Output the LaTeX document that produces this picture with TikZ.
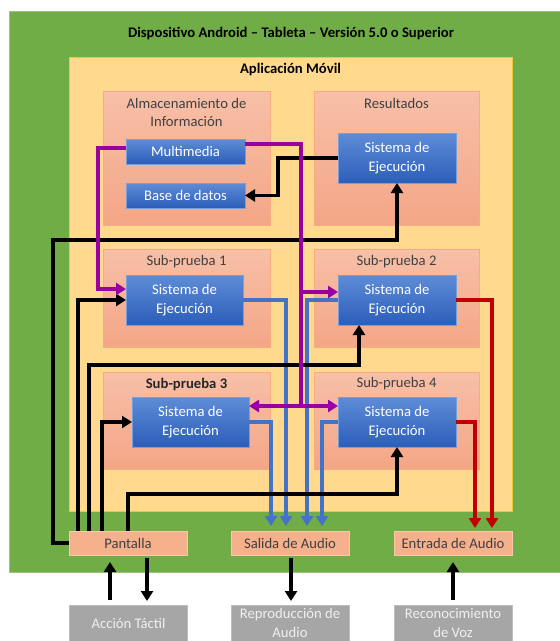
\documentclass[tikz,border=0pt]{standalone}
\usepackage{fontspec}
\setmainfont{Carlito}
\usetikzlibrary{arrows.meta}
\definecolor{gr}{RGB}{112,173,71}
\definecolor{yel}{RGB}{255,217,142}
\definecolor{yelb}{RGB}{236,200,60}
\definecolor{saltop}{RGB}{247,192,168}
\definecolor{salbot}{RGB}{244,166,134}
\definecolor{salbd}{RGB}{246,172,128}
\definecolor{bltop}{RGB}{94,140,214}
\definecolor{blbot}{RGB}{44,94,186}
\definecolor{blbd}{RGB}{120,158,220}
\definecolor{pur}{RGB}{153,0,160}
\definecolor{lbl}{RGB}{68,114,196}
\definecolor{rd}{RGB}{192,0,0}
\definecolor{txt}{RGB}{64,64,64}
\definecolor{gbox}{RGB}{166,166,166}
\definecolor{gbd}{RGB}{190,190,190}
\definecolor{gtxt}{RGB}{240,240,240}
\definecolor{iofill}{RGB}{245,176,140}
\definecolor{iobd}{RGB}{248,200,170}
\begin{document}
\begin{tikzpicture}[x=1pt,y=-1pt,
  every node/.style={inner sep=0pt,outer sep=0pt},
  basefont/.style={font=\fontsize{14.67}{18.5}\selectfont},
  salbox/.style={draw=salbd,line width=0.8pt,top color=saltop,bottom color=salbot},
  bluebox/.style={draw=blbd,line width=0.8pt,top color=bltop,bottom color=blbot,
     text=white,align=center,basefont},
  stitle/.style={text=txt,align=center,basefont},
  iobox/.style={draw=iobd,line width=0.8pt,fill=iofill,text=txt,basefont,
     minimum width=118,minimum height=24},
  graybox/.style={draw=gbd,line width=0.8pt,fill=gbox,text=gtxt,align=center,basefont,
     minimum width=118,minimum height=36},
  arr/.style={-{Triangle[length=10pt,width=12pt]}},
  blk/.style={draw=black,line width=3.4pt,arr},
  pu/.style={draw=pur,line width=3.4pt},
  bl/.style={draw=lbl,line width=3.4pt,arr,shorten >=5pt},
  rl/.style={draw=rd,line width=3.4pt,arr,shorten >=3pt}
]
\useasboundingbox (0,0) rectangle (560,641);
\clip (0,0) rectangle (560,641);
\fill[white] (0,0) rectangle (560,641);

% device
\node[fill=gr,draw=gr!70!white,line width=0.8pt,minimum width=560,minimum height=561] (dev) at (289,291.5) {};
\node[font=\fontsize{14.67}{18.5}\selectfont\bfseries] (devt) at (291,33) {Dispositivo Android – Tableta – Versión 5.0 o Superior};

% app
\node[fill=yel,draw=yelb,line width=0.8pt,minimum width=443,minimum height=454] (app) at (290.5,284) {};
\node[font=\fontsize{14.67}{18.5}\selectfont\bfseries] (appt) at (290.5,70) {Aplicación Móvil};

% salmon containers
\node[salbox,minimum width=167,minimum height=134] (alm) at (186.5,158) {};
\node[salbox,minimum width=165,minimum height=134] (res) at (396.5,158) {};
\node[salbox,minimum width=167,minimum height=98] (sp1) at (186.5,298) {};
\node[salbox,minimum width=165,minimum height=98] (sp2) at (396.5,298) {};
\node[salbox,minimum width=167,minimum height=97] (sp3) at (186.5,420.5) {};
\node[salbox,minimum width=165,minimum height=97] (sp4) at (396.5,420.5) {};

\node[stitle] (almt) at (186.5,112.5) {Almacenamiento de\\Información};
\node[stitle] (rest) at (396.5,103) {Resultados};
\node[stitle] (sp1t) at (186.5,262) {Sub-prueba 1};
\node[stitle] (sp2t) at (396.5,262) {Sub-prueba 2};
\node[stitle,text=black!85,font=\fontsize{14.67}{18.5}\selectfont\bfseries] (sp3t) at (186.5,384) {Sub-prueba 3};
\node[stitle] (sp4t) at (396.5,384) {Sub-prueba 4};

% blue boxes
\node[bluebox,minimum width=119,minimum height=25] (mm) at (185.5,151.5) {Multimedia};
\node[bluebox,minimum width=119,minimum height=25] (bd) at (185.5,195.5) {Base de datos};
\node[bluebox,minimum width=118,minimum height=50] (sr) at (397,158) {Sistema de\\Ejecución};
\node[bluebox,minimum width=117,minimum height=50] (s1) at (184.5,300) {Sistema de\\Ejecución};
\node[bluebox,minimum width=118,minimum height=50] (s2) at (397,300) {Sistema de\\Ejecución};
\node[bluebox,minimum width=117,minimum height=50] (s3) at (190.5,422) {Sistema de\\Ejecución};
\node[bluebox,minimum width=118,minimum height=50] (s4) at (397,422) {Sistema de\\Ejecución};

% io boxes
\node[iobox] (pant) at (128,543) {Pantalla};
\node[iobox] (sal) at (290,543) {Salida de Audio};
\node[iobox] (ent) at (453,543) {Entrada de Audio};

% external
\node[graybox] (acc) at (128.5,623) {Acción Táctil};
\node[graybox] (rep) at (290,623) {Reproducción de\\Audio};
\node[graybox] (rec) at (453,623) {Reconocimiento\\de Voz};

% coordinates
\coordinate (lt) at (53,240);
\coordinate (pj1) at (301,292);
\coordinate (pj2) at (301,406);

% blue lines
\draw[bl] (s1.east) -| ([xshift=-4pt]sal.north);
\draw[bl] (s3.east) -| ([xshift=-19pt]sal.north);
\draw[bl] (s2.west) -| ([xshift=17pt]sal.north);
\draw[bl] (s4.west) -| ([xshift=32pt]sal.north);

% red lines
\draw[rl] (s2.east) -| ([xshift=39pt]ent.north);
\draw[rl] (s4.east) -| ([xshift=22pt]ent.north);

% black lines
\draw[blk] (sr.west) -- ++(-60,0) |- (bd.east);
\draw[blk] (pant.west) -| (lt) -| (sr.south);
\draw[blk] ([xshift=-50pt]pant.north) |- (s1.west);
\draw[blk] ([xshift=-39pt]pant.north) -- ++(0,-166) -| ([xshift=-38pt]s2.south);
\draw[blk] ([xshift=-26pt]pant.north) |- (s3.west);
\draw[blk] (pant.north) -- ++(0,-37) -| (s4.south);

% purple lines
\draw[pu,arr] ([yshift=3.5pt]mm.west) -- ++(-28,0) |- ([yshift=11pt]s1.west);
\draw[pu] ([yshift=7.5pt]mm.east) -| (pj2);
\draw[pu,arr] (pj1) -- (pj1 -| s2.west);
\draw[pu,arr] (pj2) -- (pj2 -| s3.east);
\draw[pu,arr] (pj2) -- (pj2 -| s4.west);

% bottom arrows
\draw[blk,shorten <=5pt,shorten >=7pt] ([xshift=-18.5pt]acc.north) -- ([xshift=-18pt]pant.south);
\draw[blk,shorten <=3pt,shorten >=4pt] ([xshift=19pt]pant.south) -- ([xshift=18.5pt]acc.north);
\draw[blk,shorten <=3pt,shorten >=4pt] ([xshift=1pt]sal.south) -- ([xshift=1pt]rep.north);
\draw[blk,shorten <=5pt,shorten >=7pt] (rec.north) -- (ent.south);
\end{tikzpicture}
\end{document}
